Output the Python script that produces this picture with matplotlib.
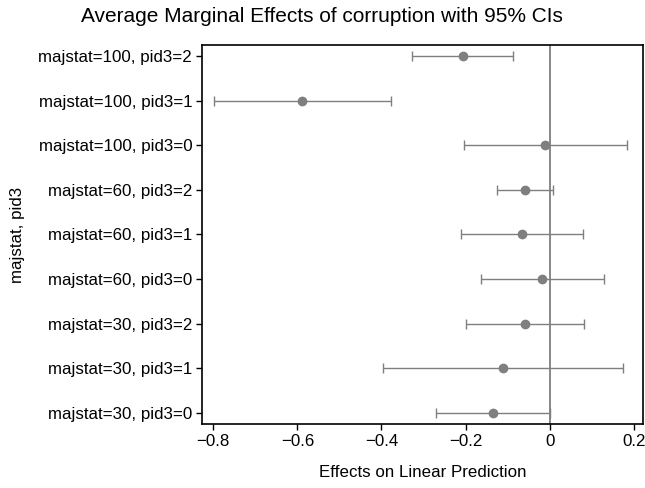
import numpy as np
import matplotlib.pyplot as plt

plt.rcParams['font.family'] = ['Liberation Sans', 'DejaVu Sans']

# margins by group, bottom to top
labels = ['majstat=30, pid3=0', 'majstat=30, pid3=1', 'majstat=30, pid3=2',
          'majstat=60, pid3=0', 'majstat=60, pid3=1', 'majstat=60, pid3=2',
          'majstat=100, pid3=0', 'majstat=100, pid3=1', 'majstat=100, pid3=2']
effect = [-0.136, -0.112, -0.059, -0.019, -0.067, -0.059, -0.010, -0.588, -0.207]
ci_lo = [-0.270, -0.397, -0.199, -0.163, -0.212, -0.125, -0.203, -0.798, -0.327]
ci_hi = [0.000, 0.174, 0.082, 0.128, 0.079, 0.009, 0.184, -0.377, -0.087]

effect = np.array(effect)
ci_lo = np.array(ci_lo)
ci_hi = np.array(ci_hi)
y = np.arange(len(labels))

grey = '#7f7f7f'
fs = 12.2

fig = plt.figure(figsize=(6.45, 4.88), dpi=100)
ax = fig.add_axes([0.313, 0.131, 0.684, 0.777])

ax.axvline(0, color=grey, lw=1.3, zorder=1)
ax.errorbar(effect, y, xerr=[effect - ci_lo, ci_hi - effect], fmt='o',
            color=grey, ecolor=grey, ms=6, elinewidth=1, capsize=3.5,
            capthick=1, zorder=2)

ax.set_xlim(-0.827, 0.222)
ax.set_ylim(-0.25, len(labels) - 0.75)
ax.set_xticks([-0.8, -0.6, -0.4, -0.2, 0, 0.2])
ax.set_xticklabels(['\u22120.8', '\u22120.6', '\u22120.4', '\u22120.2', '0', '0.2'])
ax.set_yticks(y)
ax.set_yticklabels(labels)
ax.tick_params(labelsize=fs, length=4, width=1, colors='black', pad=3)

for s in ax.spines.values():
    s.set_linewidth(1.2)

ax.set_xlabel('Effects on Linear Prediction', fontsize=fs, labelpad=12)
ax.set_ylabel('majstat, pid3', fontsize=fs, labelpad=10)
fig.text(0.4985, 1 - 16 / 488,
         'Average Marginal Effects of corruption with 95% CIs',
         fontsize=15, ha='center', va='center')

fig.savefig('out.png', dpi=100)
